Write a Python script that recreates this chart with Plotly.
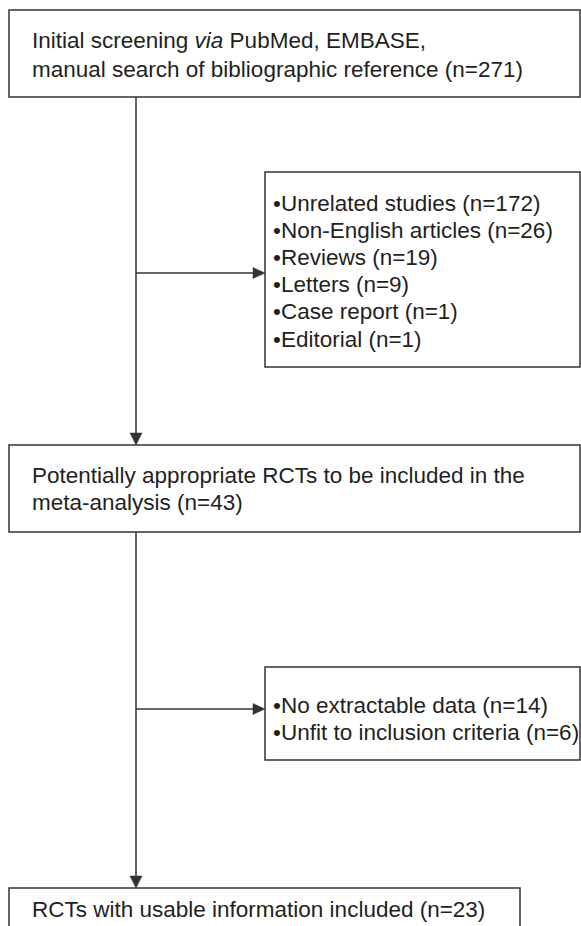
import plotly.graph_objects as go

# ---- data (texts and counts) ----
screen_text = ["Initial screening <i>via</i> PubMed, EMBASE,",
               "manual search of bibliographic reference"]
screen_n = 271
excl1_labels = ["Unrelated studies", "Non-English articles", "Reviews",
                "Letters", "Case report", "Editorial"]
excl1_n = [172, 26, 19, 9, 1, 1]
potential_text = ["Potentially appropriate RCTs to be included in the",
                  "meta-analysis"]
potential_n = 43
excl2_labels = ["No extractable data", "Unfit to inclusion criteria"]
excl2_n = [14, 6]
final_text = ["RCTs with usable information included"]
final_n = 23

# ---- layout constants ----
W, H = 581, 926
LINE = "#333333"
TXT = "#231f20"
FONT = "Liberation Sans, Arial, sans-serif"
FS = 22.5
LW = 1.5
VX = 136  # main vertical line x

fig = go.Figure()
shapes = []
annots = []


def box(x0, y0, x1, y1):
    shapes.append(dict(type="rect", xref="x", yref="y", x0=x0, y0=y0, x1=x1, y1=y1,
                       line=dict(color=LINE, width=LW), fillcolor="rgba(0,0,0,0)"))


def line(x0, y0, x1, y1):
    shapes.append(dict(type="line", xref="x", yref="y", x0=x0, y0=y0, x1=x1, y1=y1,
                       line=dict(color=LINE, width=LW)))


def head_down(x, y):
    shapes.append(dict(type="path", xref="x", yref="y",
                       path=f"M {x-6},{y-12} L {x+6},{y-12} L {x},{y} Z",
                       fillcolor=LINE, line=dict(color=LINE, width=0.5)))


def head_right(x, y):
    shapes.append(dict(type="path", xref="x", yref="y",
                       path=f"M {x-12},{y-5.5} L {x-12},{y+5.5} L {x},{y} Z",
                       fillcolor=LINE, line=dict(color=LINE, width=0.5)))


def text(x, y, s):
    annots.append(dict(x=x, y=y, xref="x", yref="y", text=s, showarrow=False,
                       xanchor="left", yanchor="middle",
                       font=dict(family=FONT, size=FS, color=TXT)))


# Box 1
box(9, 10, 580, 97)
lines1 = [screen_text[0], f"{screen_text[1]} (n={screen_n})"]
for i, s in enumerate(lines1):
    text(30, 40 + i * 29, s)

# Exclusion box 1
box(265, 172, 580, 367)
for i, (lab, n) in enumerate(zip(excl1_labels, excl1_n)):
    text(271, 203 + i * 27.2, f"•{lab} (n={n})")

# Box 3
box(9, 445, 580, 532)
lines3 = [potential_text[0], f"{potential_text[1]} (n={potential_n})"]
for i, s in enumerate(lines3):
    text(30, 475 + i * 27.5, s)

# Exclusion box 2
box(265, 667, 580, 760)
for i, (lab, n) in enumerate(zip(excl2_labels, excl2_n)):
    text(271, 705 + i * 27.2, f"•{lab} (n={n})")

# Final box
box(9, 888, 520, 960)
text(30, 909, f"{final_text[0]} (n={final_n})")

# Connectors
line(VX, 97, VX, 434)
head_down(VX, 445)
line(VX, 273, 254, 273)
head_right(265, 273)
line(VX, 532, VX, 877)
head_down(VX, 888)
line(VX, 709, 254, 709)
head_right(265, 709)

fig.update_layout(
    width=W, height=H,
    margin=dict(l=0, r=0, t=0, b=0),
    paper_bgcolor="white", plot_bgcolor="white",
    xaxis=dict(range=[0, W], visible=False, fixedrange=True),
    yaxis=dict(range=[H, 0], visible=False, fixedrange=True),
    shapes=shapes, annotations=annots, showlegend=False,
)

fig.write_html("out.html", config={"displayModeBar": False},
               post_script="document.body.style.margin='0';document.body.style.overflow='hidden';")
